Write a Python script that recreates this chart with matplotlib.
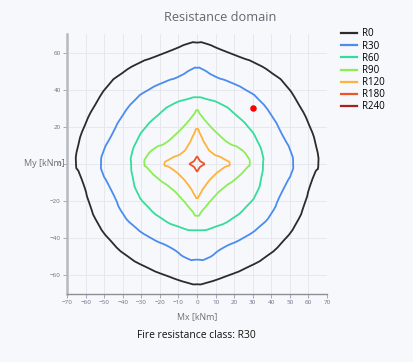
import numpy as np
import matplotlib.pyplot as plt
from matplotlib.path import Path
from matplotlib.patches import PathPatch
from matplotlib.lines import Line2D

plt.rcParams['font.family'] = ['Open Sans', 'DejaVu Sans']

# Interaction curves Mx-My per fire resistance class [kNm]
r0_x = [65.3, 63.9, 60.3, 54.9, 47.7, 40.5, 31.6, 22.6, 13.6, 4.6, 0.0,
        -4.6, -13.6, -22.6, -31.6, -40.5, -47.7, -54.9, -60.3, -63.9, -65.2,
        -63.4, -60.7, -58.0, -53.5, -46.3, -37.4, -26.6, -15.8, -5.1, 0.0,
        5.1, 15.8, 26.6, 37.4, 46.3, 53.5, 58.0, 60.7, 63.4, 65.3]
r0_y = [0.0, 10.4, 21.1, 31.8, 42.5, 48.8, 54.2, 57.8, 61.3, 64.9, 65.4,
        64.9, 61.3, 57.8, 54.2, 48.8, 42.5, 31.8, 21.1, 10.4, 0.4,
        -5.0, -12.2, -21.1, -31.8, -41.6, -49.7, -55.9, -60.4, -64.0, -64.8,
        -64.0, -60.4, -55.9, -49.7, -41.6, -31.8, -21.1, -12.2, -5.0, 0.0]

r30_x = [51.7, 50.4, 45.9, 40.5, 33.4, 26.2, 17.2, 10.0, 2.8, 0.0,
         -2.8, -10.0, -17.2, -26.2, -33.4, -40.5, -45.9, -50.4, -51.7,
         -50.8, -48.1, -44.5, -40.1, -33.8, -24.8, -14.0, -5.9, 0.0,
         5.9, 14.0, 24.8, 33.8, 40.1, 44.5, 48.1, 50.8, 51.7]
r30_y = [0.0, 6.8, 15.7, 25.5, 34.5, 39.9, 44.3, 47.0, 51.1, 51.8,
         51.1, 47.0, 44.3, 39.9, 34.5, 25.5, 15.7, 6.8, 0.0,
         -5.0, -10.4, -17.5, -26.5, -33.6, -39.9, -45.2, -50.6, -51.5,
         -50.6, -45.2, -39.9, -33.6, -26.5, -17.5, -10.4, -5.0, 0.0]

r60_x = [35.5, 35.2, 32.5, 28.0, 20.8, 13.6, 4.6, 0.0,
         -4.6, -13.6, -20.8, -28.0, -32.5, -35.2, -35.5,
         -34.7, -32.0, -26.6, -19.4, -10.4, 0.0,
         10.4, 19.4, 26.6, 32.0, 34.7, 35.5]
r60_y = [0.0, 5.2, 12.3, 19.4, 26.5, 31.9, 35.1, 35.9,
         35.1, 31.9, 26.5, 19.4, 12.3, 5.2, 0.0,
         -6.8, -15.7, -22.9, -29.1, -33.6, -35.7,
         -33.6, -29.1, -22.9, -15.7, -6.8, 0.0]

r90_x = [28.3, 27.1, 22.6, 17.2, 11.8, 6.4, 1.9, 0.0,
         -1.9, -6.4, -11.8, -17.2, -22.6, -27.1, -28.3,
         -26.6, -21.2, -14.0, -8.6, -3.2, 0.0,
         3.2, 8.6, 14.0, 21.2, 26.6, 28.3]
r90_y = [0.0, 4.1, 8.6, 11.2, 15.7, 21.1, 26.5, 29.0,
         26.5, 21.1, 15.7, 11.2, 8.6, 4.1, 0.0,
         -2.3, -7.7, -13.1, -18.4, -24.7, -27.9,
         -24.7, -18.4, -13.1, -7.7, -2.3, 0.0]

r120_x = [17.6, 13.6, 8.2, 4.6, 1.9, 0.0,
          -1.9, -4.6, -8.2, -13.6, -17.6,
          -14.0, -8.6, -4.1, -1.4, 0.0,
          1.4, 4.1, 8.6, 14.0, 17.6]
r120_y = [0.0, 3.2, 5.9, 10.4, 15.7, 18.9,
          15.7, 10.4, 5.9, 3.2, 0.0,
          -2.3, -6.8, -12.2, -16.6, -18.4,
          -16.6, -12.2, -6.8, -2.3, 0.0]

r180_x = [4.0, 1.6, 0.0, -1.6, -4.0, -1.6, 0.0, 1.6, 4.0]
r180_y = [0.0, 1.6, 4.0, 1.6, 0.0, -1.6, -4.0, -1.6, 0.0]

r240_x = []
r240_y = []

labels = ['R0', 'R30', 'R60', 'R90', 'R120', 'R180', 'R240']
colors = ['#2e2a2b', '#4a8cf0', '#35dc9a', '#8cee55', '#ffb33a', '#ee5428', '#a3231f']
curves_x = [r0_x, r30_x, r60_x, r90_x, r120_x, r180_x, r240_x]
curves_y = [r0_y, r30_y, r60_y, r90_y, r120_y, r180_y, r240_y]

# Design load point
load_mx = [30]
load_my = [30]


def smooth_loop(xs, ys, tension=0.5):
    # closed Catmull-Rom style path through the given vertices, as cubic Beziers
    pts = np.column_stack([xs, ys])[:-1]
    n = len(pts)
    verts = [pts[0]]
    codes = [Path.MOVETO]
    for i in range(n):
        p0, p1 = pts[i - 1], pts[i]
        p2, p3 = pts[(i + 1) % n], pts[(i + 2) % n]
        c1 = p1 + (p2 - p0) * tension / 3
        c2 = p2 - (p3 - p1) * tension / 3
        verts += [c1, c2, p2]
        codes += [Path.CURVE4] * 3
    return Path(verts, codes)


bg = '#f7f8fb'
fig = plt.figure(figsize=(4.14, 3.62), dpi=100, facecolor=bg)
ax = fig.add_axes([0.162, 0.188, 0.628, 0.718], facecolor=bg)

handles = []
for cx, cy, lab, col in zip(curves_x, curves_y, labels, colors):
    if len(cx) > 2:
        tens = 0.25 if lab == 'R180' else 1.0
        ax.add_patch(PathPatch(smooth_loop(cx, cy, tens), facecolor='none',
                               edgecolor=col, lw=1.3, joinstyle='round'))
    handles.append(Line2D([], [], color=col, lw=1.6, label=lab))

ax.scatter(load_mx, load_my, s=22, color='#ff0000', zorder=5, linewidths=0)

ax.set_xlim(-70, 70)
ax.set_ylim(-70, 70)
ax.set_xticks(np.arange(-70, 71, 10))
ax.set_yticks(np.arange(-60, 61, 20))
ax.grid(True, color='#e6e8ee', lw=0.7)
ax.set_axisbelow(True)

for side in ['top', 'right']:
    ax.spines[side].set_visible(False)
ax.spines['left'].set_color('#b8b8c0')
ax.spines['left'].set_linewidth(1.8)
ax.spines['bottom'].set_color('#8e8e96')
ax.spines['bottom'].set_linewidth(1.0)
ax.tick_params(labelsize=4.5, colors='#9a9aa6', length=3, width=0.6, pad=1.5)
for t in ax.get_xticklabels() + ax.get_yticklabels():
    t.set_color('#6a6f86')

ax.set_xlabel('Mx [kNm]', fontsize=6.3, color='#6c6c74', labelpad=5)
ax.text(-0.01, 0.5, 'My [kNm]', transform=ax.transAxes, fontsize=6.5,
        color='#6c6c74', ha='right', va='center')

fig.text(0.531, 0.953, 'Resistance domain', fontsize=9.2, color='#666670',
         ha='center', va='center')
fig.text(0.475, 0.073, 'Fire resistance class: R30', fontsize=7.4,
         color='#111111', ha='center', va='center')

ax.legend(handles=handles, loc='upper left', bbox_to_anchor=(1.02, 1.055),
          frameon=False, fontsize=7, handlelength=1.6, labelspacing=0.12,
          handletextpad=0.6)

fig.savefig('out.png', dpi=100, facecolor=bg)
